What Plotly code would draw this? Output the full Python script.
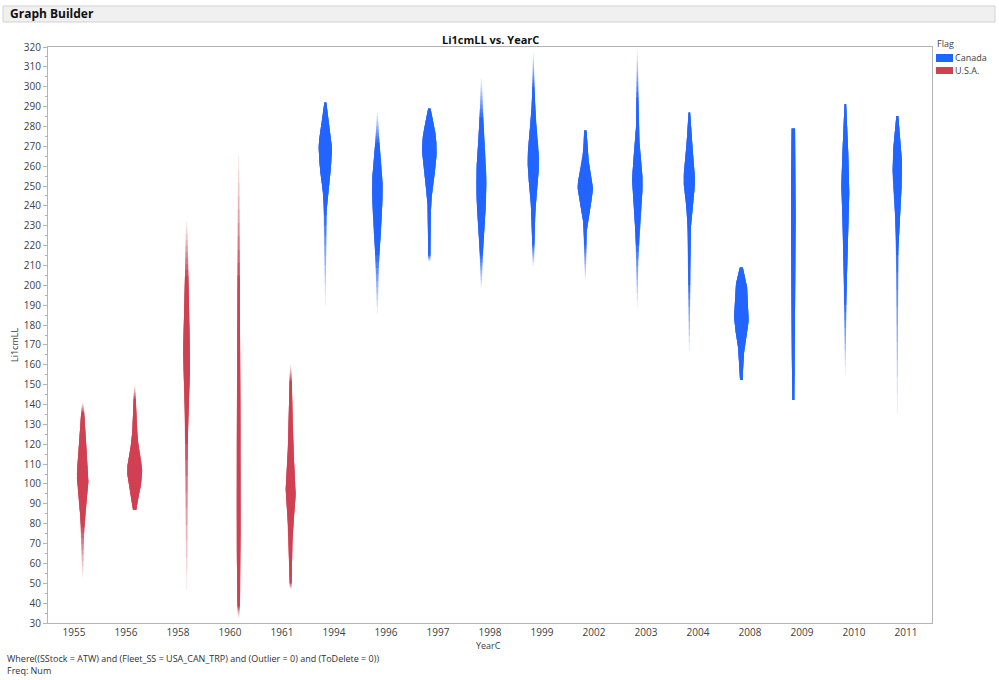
import numpy as np
import plotly.graph_objects as go

# ---- data -------------------------------------------------------------
years = ["1955", "1956", "1958", "1960", "1961", "1994", "1996", "1997", "1998",
         "1999", "2002", "2003", "2004", "2008", "2009", "2010", "2011"]
flags = ["U.S.A.", "U.S.A.", "U.S.A.", "U.S.A.", "U.S.A.", "Canada", "Canada",
         "Canada", "Canada", "Canada", "Canada", "Canada", "Canada", "Canada",
         "Canada", "Canada", "Canada"]

# density profiles: Li1cmLL levels and the relative density at each level
prof_y = {
    "1955": [53, 65, 78, 92, 103.5, 117, 128.7, 136, 141],
    "1956": [87, 92, 98.5, 107, 115.6, 123.7, 130, 137, 143, 149.3],
    "1958": [47, 65, 85, 105, 125, 140, 152, 163, 175, 190, 205, 220, 232],
    "1960": [32.5, 38, 50, 70, 90, 110, 130, 150, 170, 190, 205, 225, 245, 265],
    "1961": [47, 55, 65, 75, 85, 95.5, 105, 115, 128.7, 145.8, 155, 160],
    "1994": [190, 205, 219, 236.5, 246.5, 256.6, 264, 269.8, 276, 281.8, 288, 292],
    "1996": [186, 202.7, 216, 232.9, 249.5, 258, 266.6, 273, 280, 287],
    "1997": [212, 228, 239.6, 253, 261, 268, 275, 281.6, 286, 289],
    "1998": [199, 216, 232.9, 245, 253, 262, 273, 286.8, 295, 304],
    "1999": [210, 220, 231.4, 246.5, 256, 263, 272, 286.8, 303, 317],
    "2002": [203, 215, 228, 236.5, 244, 249.7, 256, 261.6, 268, 274, 278],
    "2003": [189, 205, 216, 233, 243, 251.5, 260, 278.2, 290, 303.4, 318],
    "2004": [167, 180, 194, 216, 236.5, 245, 253, 260, 269.8, 280, 287],
    "2008": [152.4, 157, 161, 169, 176, 182.6, 190, 199.3, 205, 209],
    "2009": [142.3, 150, 169, 185, 202.7, 228, 253, 270, 279],
    "2010": [155, 170, 186, 202.7, 215, 228, 240, 249.7, 258, 268, 278.2, 286, 291.3],
    "2011": [135.7, 160, 185, 206, 219.3, 230, 236.5, 246, 256.4, 265, 273.2, 280, 285.3],
}
prof_d = {
    "1955": [0.5, 1.0, 1.5, 4.0, 5.8, 4.0, 2.5, 1.5, 0.6],
    "1956": [1.7, 3.2, 6.0, 7.5, 5.0, 2.7, 2.0, 1.5, 1.0, 0.6],
    "1958": [0.5, 0.7, 0.9, 1.0, 1.3, 1.8, 2.8, 3.6, 3.0, 2.2, 1.6, 1.2, 0.6],
    "1960": [0.6, 1.2, 1.6, 1.9, 2.2, 2.1, 1.8, 1.6, 1.4, 1.2, 1.0, 0.9, 0.8, 0.5],
    "1961": [0.8, 1.2, 1.5, 2.0, 3.5, 5.0, 4.2, 3.0, 2.0, 1.3, 1.0, 0.5],
    "1994": [0.4, 0.6, 0.8, 1.2, 2.3, 5.0, 6.3, 6.7, 5.5, 3.3, 2.0, 1.0],
    "1996": [0.4, 1.0, 2.0, 4.3, 5.3, 4.5, 3.0, 1.8, 1.0, 0.5],
    "1997": [1.0, 1.2, 1.7, 4.3, 6.5, 7.3, 6.5, 4.0, 2.5, 1.2],
    "1998": [0.5, 1.3, 3.7, 4.8, 5.0, 4.5, 3.0, 1.5, 1.0, 0.5],
    "1999": [0.7, 1.0, 1.5, 3.3, 5.2, 5.7, 4.8, 2.0, 0.8, 0.4],
    "2002": [0.5, 0.9, 1.3, 3.7, 6.5, 7.7, 6.0, 3.7, 2.0, 1.5, 1.2],
    "2003": [0.4, 0.7, 1.0, 2.7, 4.5, 5.3, 4.5, 1.3, 1.0, 0.7, 0.4],
    "2004": [0.5, 0.6, 0.8, 1.0, 2.3, 4.5, 5.7, 5.0, 3.0, 1.5, 0.8],
    "2008": [1.3, 1.7, 2.0, 3.3, 5.5, 7.3, 6.5, 5.7, 3.5, 1.5],
    "2009": [1.0, 1.4, 1.5, 1.6, 1.8, 2.3, 2.3, 2.0, 1.7],
    "2010": [0.4, 0.6, 0.8, 1.3, 1.8, 2.3, 3.5, 4.0, 3.6, 2.8, 2.0, 1.3, 0.8],
    "2011": [0.4, 0.5, 0.6, 0.8, 1.0, 1.6, 2.3, 3.8, 4.7, 4.5, 3.3, 2.0, 1.0],
}
# Li1cmLL range with full shading (sparser tails are drawn lighter)
core_lo = {"1955": 78, "1956": 87, "1958": 120, "1960": 38, "1961": 50,
           "1994": 235, "1996": 215, "1997": 215, "1998": 215, "1999": 220,
           "2002": 220, "2003": 220, "2004": 200, "2008": 152.4, "2009": 142.3,
           "2010": 190, "2011": 215}
core_hi = {"1955": 136, "1956": 143, "1958": 205, "1960": 205, "1961": 152,
           "1994": 292, "1996": 272, "1997": 289, "1998": 285, "1999": 300,
           "2002": 278, "2003": 295, "2004": 287, "2008": 209, "2009": 279,
           "2010": 291.3, "2011": 285.3}

# ---- styling ----------------------------------------------------------
COLORS = {"Canada": (33, 100, 255), "U.S.A.": (208, 64, 82)}
DODGE = {"Canada": -1 / 6, "U.S.A.": 1 / 6}
WIDTH_SCALE = 1 / 52.0        # density unit -> category width
N_SHADES = 10                  # layered shading steps for the thin tails
FONT = "Open Sans, DejaVu Sans, sans-serif"

# pixel frame of the plot area inside the 999x680 page
L, R, T, B = 48, 932, 47, 623


def px2x(px):
    return (px - L) / (R - L)


def py2y(py):
    return (B - py) / (B - T)


def pchip(xk, yk, xq):
    """Shape-preserving cubic through the profile knots (smooth outline)."""
    xk = np.asarray(xk, float)
    yk = np.asarray(yk, float)
    h = np.diff(xk)
    delta = np.diff(yk) / h
    d = np.zeros_like(yk)
    for k in range(1, len(xk) - 1):
        if delta[k - 1] * delta[k] > 0:
            w1 = 2 * h[k] + h[k - 1]
            w2 = h[k] + 2 * h[k - 1]
            d[k] = (w1 + w2) / (w1 / delta[k - 1] + w2 / delta[k])
    d[0] = delta[0]
    d[-1] = delta[-1]
    idx = np.clip(np.searchsorted(xk, xq) - 1, 0, len(xk) - 2)
    t = (xq - xk[idx]) / h[idx]
    h00 = 2 * t**3 - 3 * t**2 + 1
    h10 = t**3 - 2 * t**2 + t
    h01 = -2 * t**3 + 3 * t**2
    h11 = t**3 - t**2
    out = (h00 * yk[idx] + h10 * h[idx] * d[idx]
           + h01 * yk[idx + 1] + h11 * h[idx] * d[idx + 1])
    return np.maximum(out, 0.3)


fig = go.Figure()

for i, yr in enumerate(years):
    flag = flags[i]
    r, g, b = COLORS[flag]
    xc = i + DODGE[flag]
    ys = prof_y[yr]
    grid = np.linspace(ys[0], ys[-1], 400)
    hw = pchip(ys, prof_d[yr], grid) * WIDTH_SCALE
    lo, hi = core_lo[yr], core_hi[yr]
    shade = np.ones_like(grid)
    below = grid < lo
    above = grid > hi
    if lo > ys[0]:
        shade[below] = 0.12 + 0.88 * (grid[below] - ys[0]) / (lo - ys[0])
    if hi < ys[-1]:
        shade[above] = 0.12 + 0.88 * (ys[-1] - grid[above]) / (ys[-1] - hi)

    # nested layers: each covers the range whose shade reaches its level
    levels = 0.12 + 0.88 * np.arange(N_SHADES) / (N_SHADES - 1)
    prev = 0.0
    for c in levels:
        sel = np.where(shade >= c - 1e-9)[0]
        if len(sel) < 2:
            prev = c
            continue
        seg = slice(sel[0], sel[-1] + 1)
        a = 1 - (1 - c) / (1 - prev) if prev < 1 else 1.0
        a = min(max(a, 0.0), 1.0)
        prev = c
        gy = grid[seg]
        gw = hw[seg]
        xs = np.concatenate([xc - gw, (xc + gw)[::-1]])
        yv = np.concatenate([gy, gy[::-1]])
        fig.add_trace(go.Scatter(
            x=xs, y=yv, mode="lines", fill="toself",
            fillcolor=f"rgba({r},{g},{b},{a:.3f})",
            line=dict(width=0, color=f"rgba({r},{g},{b},0)"),
            hoverinfo="skip", showlegend=False))

axis_col = "#B4B4B4"
fig.update_xaxes(
    range=[-0.5, len(years) - 0.5], tickmode="array",
    tickvals=list(range(len(years))), ticktext=years,
    showgrid=False, zeroline=False, showline=True, linecolor=axis_col,
    mirror=True, ticks="", tickfont=dict(size=10, color="#404040", family=FONT),
)
fig.update_yaxes(
    range=[30, 320], dtick=10, tick0=30, showgrid=False, zeroline=False,
    showline=True, linecolor=axis_col, mirror=True, ticks="outside",
    ticklen=4, tickcolor=axis_col,
    minor=dict(dtick=5, ticks="outside", ticklen=2, tickcolor=axis_col),
    tickfont=dict(size=10, color="#404040", family=FONT),
)

shapes = [
    # header bar
    dict(type="rect", xref="paper", yref="paper",
         x0=px2x(3), x1=px2x(995), y0=py2y(22), y1=py2y(6),
         fillcolor="#F0F0F0", line=dict(color="#D2D2D2", width=1), layer="below"),
    # legend swatches
    dict(type="rect", xref="paper", yref="paper",
         x0=px2x(936), x1=px2x(953), y0=py2y(62), y1=py2y(54),
         fillcolor="rgb(33,100,255)", line=dict(width=0)),
    dict(type="rect", xref="paper", yref="paper",
         x0=px2x(936), x1=px2x(953), y0=py2y(74), y1=py2y(67),
         fillcolor="rgb(208,64,82)", line=dict(width=0)),
]

annotations = [
    dict(text="<b>Graph Builder</b>", x=px2x(8), y=py2y(14), xanchor="left",
         yanchor="middle", font=dict(size=12, color="#111111", family=FONT)),
    dict(text="<b>Li1cmLL vs. YearC</b>", x=px2x(490), y=py2y(39),
         xanchor="center", yanchor="middle",
         font=dict(size=11, color="#111111", family=FONT)),
    dict(text="Li1cmLL", x=px2x(14), y=py2y(345), textangle=-90,
         xanchor="center", yanchor="middle",
         font=dict(size=9, color="#404040", family=FONT)),
    dict(text="YearC", x=px2x(488), y=py2y(645), xanchor="center",
         yanchor="middle", font=dict(size=9, color="#404040", family=FONT)),
    dict(text="Flag", x=px2x(935), y=py2y(43), xanchor="left", yanchor="middle",
         font=dict(size=9, color="#404040", family=FONT)),
    dict(text="Canada", x=px2x(953), y=py2y(58), xanchor="left",
         yanchor="middle", font=dict(size=9, color="#404040", family=FONT)),
    dict(text="U.S.A.", x=px2x(953), y=py2y(70.5), xanchor="left",
         yanchor="middle", font=dict(size=9, color="#404040", family=FONT)),
    dict(text="Where((SStock = ATW) and (Fleet_SS = USA_CAN_TRP) and "
              "(Outlier = 0) and (ToDelete = 0))",
         x=px2x(5), y=py2y(658), xanchor="left", yanchor="middle",
         font=dict(size=9, color="#303030", family=FONT)),
    dict(text="Freq: Num", x=px2x(5), y=py2y(670), xanchor="left",
         yanchor="middle", font=dict(size=9, color="#303030", family=FONT)),
]
for a in annotations:
    a.update(xref="paper", yref="paper", showarrow=False)

fig.update_layout(
    width=999, height=680,
    margin=dict(l=L, r=999 - R, t=T, b=680 - B),
    paper_bgcolor="white", plot_bgcolor="white",
    showlegend=False, shapes=shapes, annotations=annotations,
    font=dict(family=FONT),
)

fig.write_html("out.html")
